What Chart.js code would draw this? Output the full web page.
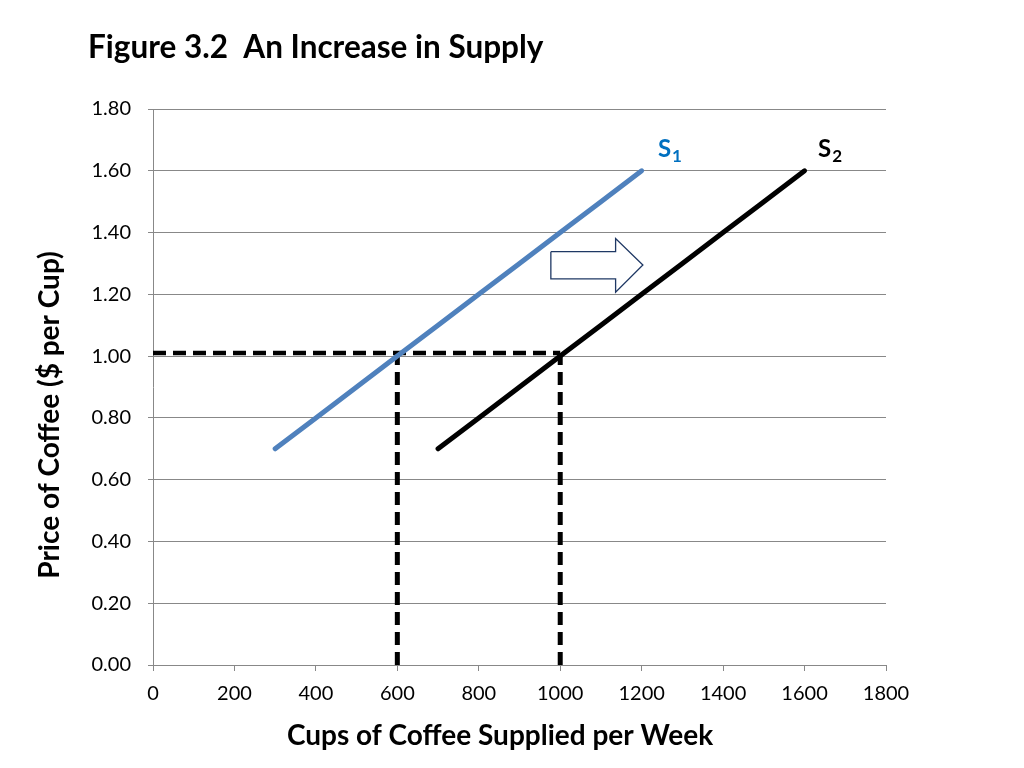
<!DOCTYPE html>
<html>
<head>
<meta charset="utf-8">
<script src="https://cdn.jsdelivr.net/npm/chart.js@4/dist/chart.umd.min.js"></script>
<style>
html,body{margin:0;padding:0;background:#fff;}
#wrap{width:1024px;height:768px;}
</style>
</head>
<body>
<div id="wrap"><canvas id="c" width="1024" height="768"></canvas></div>
<script>
// ---- data ----
const chartTitle = "Figure 3.2  An Increase in Supply";
const xTitle = "Cups of Coffee Supplied per Week";
const yTitle = "Price of Coffee ($ per Cup)";
const s1Label = "S";
const s1Sub = "1";
const s2Label = "S";
const s2Sub = "2";
const s1Q = [300, 400, 500, 600, 700, 800, 900, 1000, 1100, 1200];
const s1P = [0.70, 0.80, 0.90, 1.00, 1.10, 1.20, 1.30, 1.40, 1.50, 1.60];
const s2Q = [700, 800, 900, 1000, 1100, 1200, 1300, 1400, 1500, 1600];
const s2P = [0.70, 0.80, 0.90, 1.00, 1.10, 1.20, 1.30, 1.40, 1.50, 1.60];
const priceQ = [0, 1000];
const priceP = [1.01, 1.01];
const qty1Q = [600, 600];
const qty1P = [0, 1.01];
const qty2Q = [1000, 1000];
const qty2P = [0, 1.01];
const arrowQ = [977, 1136, 1136, 1203, 1136, 1136, 977, 977];
const arrowP = [1.338, 1.338, 1.381, 1.295, 1.207, 1.250, 1.250, 1.338];
const xTicks = [0, 200, 400, 600, 800, 1000, 1200, 1400, 1600, 1800];
const yTicks = [0, 0.2, 0.4, 0.6, 0.8, 1.0, 1.2, 1.4, 1.6, 1.8];

const FONT = "Lato, 'Open Sans', sans-serif";
const pts = (xs, ys) => xs.map((x, i) => ({x: x, y: ys[i]}));

const textPlugin = {
  id: 'texts',
  afterDraw(chart) {
    const ctx = chart.ctx;
    const xs = chart.scales.x, ys = chart.scales.y;
    ctx.save();
    ctx.fillStyle = '#000';
    ctx.textBaseline = 'middle';
    // title
    ctx.font = "bold 31.5px " + FONT;
    ctx.textAlign = 'left';
    ctx.fillText(chartTitle, 88, 48);
    // x title
    ctx.font = "bold 28px " + FONT;
    ctx.textAlign = 'center';
    ctx.fillText(xTitle, 500, 736);
    // y title
    ctx.save();
    ctx.translate(50, 415);
    ctx.rotate(-Math.PI / 2);
    ctx.fillText(yTitle, 0, 0);
    ctx.restore();
    // S labels
    const drawS = (main, sub, q, p, color) => {
      const px = xs.getPixelForValue(q), py = ys.getPixelForValue(p);
      ctx.fillStyle = color;
      ctx.textAlign = 'left';
      ctx.font = "bold 24px " + FONT;
      ctx.fillText(main, px, py);
      const w = ctx.measureText(main).width;
      ctx.font = "bold 17px " + FONT;
      ctx.fillText(sub, px + w + 1, py + 7);
    };
    drawS(s1Label, s1Sub, 1240, 1.67, '#0070C0');
    drawS(s2Label, s2Sub, 1633, 1.67, '#000');
    ctx.restore();
  }
};

new Chart(document.getElementById('c'), {
  type: 'scatter',
  data: {
    datasets: [
      {label: 'S1', data: pts(s1Q, s1P), showLine: true, borderColor: '#4F81BD', borderWidth: 5, borderCapStyle: 'round', pointRadius: 0, tension: 0, order: 0},
      {label: 'S2', data: pts(s2Q, s2P), showLine: true, borderColor: '#000', borderWidth: 5, borderCapStyle: 'round', pointRadius: 0, tension: 0, order: 0},
      {label: 'price', data: pts(priceQ, priceP), showLine: true, borderColor: '#000', borderWidth: 4.5, borderDash: [13, 7], pointRadius: 0, order: 1},
      {label: 'q1', data: pts(qty1Q, qty1P), showLine: true, borderColor: '#000', borderWidth: 5, borderDash: [13, 7], pointRadius: 0, order: 1},
      {label: 'q2', data: pts(qty2Q, qty2P), showLine: true, borderColor: '#000', borderWidth: 5, borderDash: [13, 7], pointRadius: 0, order: 1},
      {label: 'arrow', data: pts(arrowQ, arrowP), showLine: true, borderColor: '#1F3864', borderWidth: 1.3, borderJoinStyle: 'miter', pointRadius: 0, tension: 0, order: 2}
    ]
  },
  options: {
    responsive: false,
    animation: false,
    devicePixelRatio: 1,
    layout: {padding: {left: 0, right: 138, top: 109, bottom: 0}},
    plugins: {legend: {display: false}, tooltip: {enabled: false}, title: {display: false}},
    scales: {
      x: {
        type: 'linear', min: 0, max: 1800,
        afterFit: s => { s.height = 103; },
        afterBuildTicks: s => { s.ticks = xTicks.map(v => ({value: v})); },
        ticks: {color: '#000', font: {family: FONT, size: 20}, padding: 11, maxRotation: 0, callback: v => String(v)},
        grid: {drawOnChartArea: false, drawTicks: true, tickLength: 6, color: '#888'},
        border: {color: '#888', width: 1}
      },
      y: {
        type: 'linear', min: 0, max: 1.8,
        afterFit: s => { s.width = 153; },
        afterBuildTicks: s => { s.ticks = yTicks.map(v => ({value: v})); },
        ticks: {color: '#000', font: {family: FONT, size: 20}, padding: 17, callback: v => Number(v).toFixed(2)},
        grid: {color: '#888', tickLength: 5, lineWidth: 1},
        border: {color: '#888', width: 1}
      }
    }
  },
  plugins: [textPlugin]
});
</script>
</body>
</html>
